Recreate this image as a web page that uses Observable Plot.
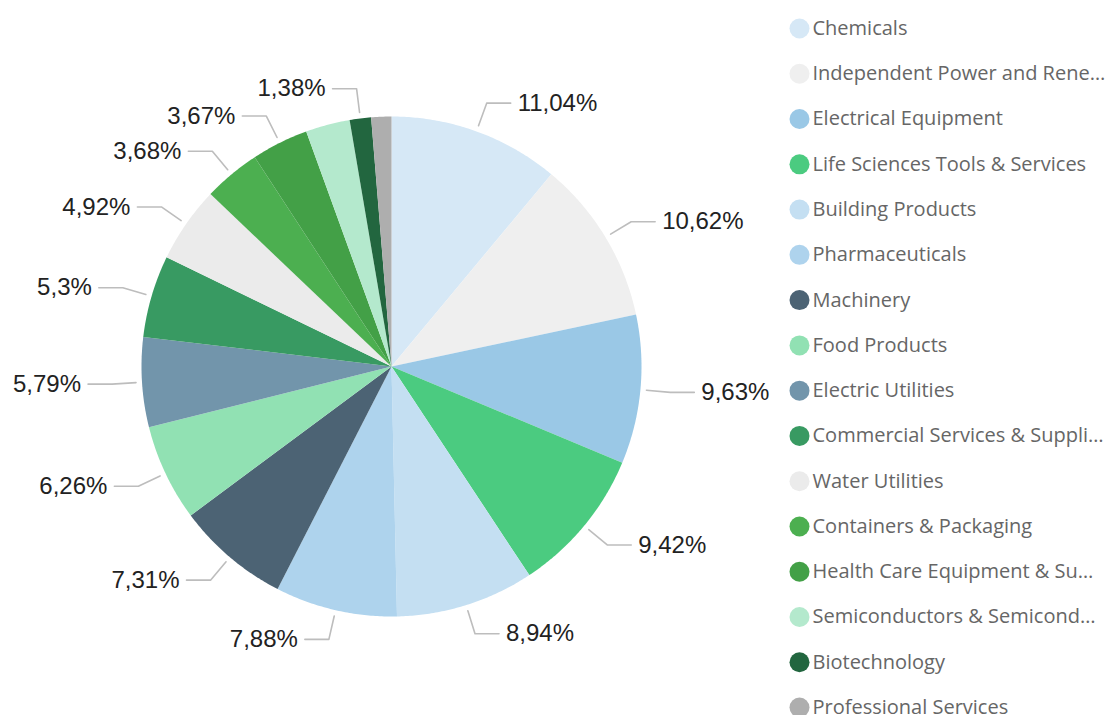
<!DOCTYPE html>
<html>
<head>
<meta charset="utf-8">
<script src="https://cdn.jsdelivr.net/npm/d3@7"></script>
<script src="https://cdn.jsdelivr.net/npm/@observablehq/plot@0.6"></script>
<style>
  html, body { margin: 0; padding: 0; background: #fff; }
  #chart svg { display: block; }
</style>
</head>
<body>
<div id="chart"></div>
<script>
// ---- Data ----
const categories = [
  "Chemicals",
  "Independent Power and Rene…",
  "Electrical Equipment",
  "Life Sciences Tools & Services",
  "Building Products",
  "Pharmaceuticals",
  "Machinery",
  "Food Products",
  "Electric Utilities",
  "Commercial Services & Suppli…",
  "Water Utilities",
  "Containers & Packaging",
  "Health Care Equipment & Su…",
  "Semiconductors & Semicond…",
  "Biotechnology",
  "Professional Services"
];
const shares = [11.04, 10.62, 9.63, 9.42, 8.94, 7.88, 7.31, 6.26, 5.79, 5.30, 4.92, 3.68, 3.67, 2.86, 1.38, 1.30];
const colors = [
  "#d6e8f6", "#efefef", "#9ac8e6", "#4bcb80", "#c4dff2", "#aed3ed", "#4c6374", "#91e1b3",
  "#7295ab", "#389a62", "#ebebeb", "#4caf50", "#43a047", "#b4e9cd", "#22663f", "#aeaeae"
];
const unlabeled = ["Semiconductors & Semicond…", "Professional Services"];

// ---- Layout ----
const W = 1109, H = 715;
const cx = 391, cy = 366, R = 250;
const legendX = 799, legendY0 = 28, legendStep = 45.27;

const rows = categories.map((name, i) => ({name, value: shares[i], color: colors[i], i}));
const arcs = d3.pie().sort(null).value(d => d.value)(rows);

const pt = (a, r) => [cx + r * Math.sin(a), cy - r * Math.cos(a)];

// slice polygons
const slicePts = [];
for (const a of arcs) {
  const n = Math.max(2, Math.ceil((a.endAngle - a.startAngle) / (Math.PI / 360)));
  slicePts.push({name: a.data.name, x: cx, y: cy});
  for (let k = 0; k <= n; k++) {
    const ang = a.startAngle + (a.endAngle - a.startAngle) * k / n;
    const [x, y] = pt(ang, R);
    slicePts.push({name: a.data.name, x, y});
  }
  slicePts.push({name: a.data.name, x: cx, y: cy});
}

// labels + leaders
const leaderPts = [];
const labels = [];
for (const a of arcs) {
  if (unlabeled.includes(a.data.name)) continue;
  const mid = (a.startAngle + a.endAngle) / 2;
  const right = Math.sin(mid) >= 0;
  const [x1, y1] = pt(mid, R + 6);
  const [x2, y2] = pt(mid, R + 30);
  const x3 = x2 + (right ? 24 : -24);
  leaderPts.push({name: a.data.name, x: x1, y: y1});
  leaderPts.push({name: a.data.name, x: x2, y: y2});
  leaderPts.push({name: a.data.name, x: x3, y: y2});
  labels.push({
    text: String(a.data.value).replace(".", ",") + "%",
    x: x3 + (right ? 7 : -7), y: y2, anchor: right ? "start" : "end"
  });
}

const legendRows = rows.map(d => ({...d, lx: legendX, ly: legendY0 + d.i * legendStep}));

const chart = Plot.plot({
  width: W, height: H,
  margin: 0,
  x: {type: "identity", axis: null},
  y: {type: "identity", axis: null},
  color: {domain: categories, range: colors},
  style: {background: "#fff"},
  marks: [
    Plot.line(slicePts, {x: "x", y: "y", z: "name", fill: "name", stroke: null, curve: "linear"}),
    Plot.line(leaderPts, {x: "x", y: "y", z: "name", stroke: "#bdbdbd", strokeWidth: 1.6}),
    Plot.text(labels.filter(d => d.anchor === "start"), {x: "x", y: "y", text: "text", textAnchor: "start", fontSize: 24, fill: "#222", fontFamily: "Liberation Sans, Arial, sans-serif"}),
    Plot.text(labels.filter(d => d.anchor === "end"), {x: "x", y: "y", text: "text", textAnchor: "end", fontSize: 24, fill: "#222", fontFamily: "Liberation Sans, Arial, sans-serif"}),
    Plot.dot(legendRows, {x: "lx", y: "ly", r: 10, fill: "name", stroke: null}),
    Plot.text(legendRows, {x: d => d.lx + 13, y: "ly", text: "name", textAnchor: "start", fontSize: 20, fill: "#666", fontFamily: "Open Sans, Noto Sans, sans-serif"})
  ]
});
document.getElementById("chart").appendChild(chart);
</script>
</body>
</html>
